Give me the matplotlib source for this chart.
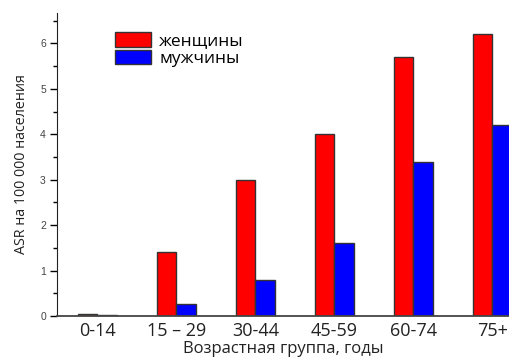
import matplotlib.pyplot as plt
import numpy as np
from matplotlib.ticker import MultipleLocator

# ASR per 100 000 by age group
groups = ["0-14", "15 \u2013 29", "30-44", "45-59", "60-74", "75+"]
women = [0.05, 1.4, 3.0, 4.0, 5.7, 6.2]
men = [0.02, 0.27, 0.8, 1.6, 3.4, 4.2]

fig = plt.figure(figsize=(5.09, 3.58), dpi=100)
ax = fig.add_axes([57 / 509, 1 - 316 / 358, 1 - 57 / 509, (316 - 13) / 358])

x = np.arange(len(groups))
w = 0.25
edge = "#333333"
ax.bar(x - w / 2, women, w, color="#ff0000", edgecolor=edge, linewidth=1, label="женщины")
ax.bar(x + w / 2, men, w, color="#0000ff", edgecolor=edge, linewidth=1, label="мужчины")

ax.set_xlim(-0.51, 5.21)
ax.set_ylim(0, 6.67)
ax.set_xticks(x)
ax.set_xticklabels(groups, fontsize=13, family="Open Sans", color="#222222")
ax.tick_params(axis="x", length=0, pad=4)

ax.yaxis.set_major_locator(MultipleLocator(1))
ax.yaxis.set_minor_locator(MultipleLocator(0.5))
ax.tick_params(axis="y", which="major", length=5, width=1, labelsize=7.5, labelcolor="#444444", pad=3)
ax.tick_params(axis="y", which="minor", length=3, width=1)
for lbl in ax.get_yticklabels():
    lbl.set_family("Liberation Sans")

for s in ("top", "right"):
    ax.spines[s].set_visible(False)
ax.spines["left"].set_color("#222222")
ax.spines["bottom"].set_color("#444444")
ax.spines["bottom"].set_linewidth(1.3)

ax.set_ylabel("ASR на 100 000 населения", fontsize=10.3, family="Open Sans", color="#222222", labelpad=8)
ax.set_xlabel("Возрастная группа, годы", fontsize=12, family="Open Sans", color="#222222", labelpad=1)

ax.legend(loc="upper left", bbox_to_anchor=(0.113, 0.96), frameon=False,
          prop={"family": "Open Sans", "size": 12.5}, handlelength=2.1, handleheight=0.95,
          handletextpad=0.45, labelspacing=0.0, borderaxespad=0)

fig.savefig("out.png", dpi=100)
